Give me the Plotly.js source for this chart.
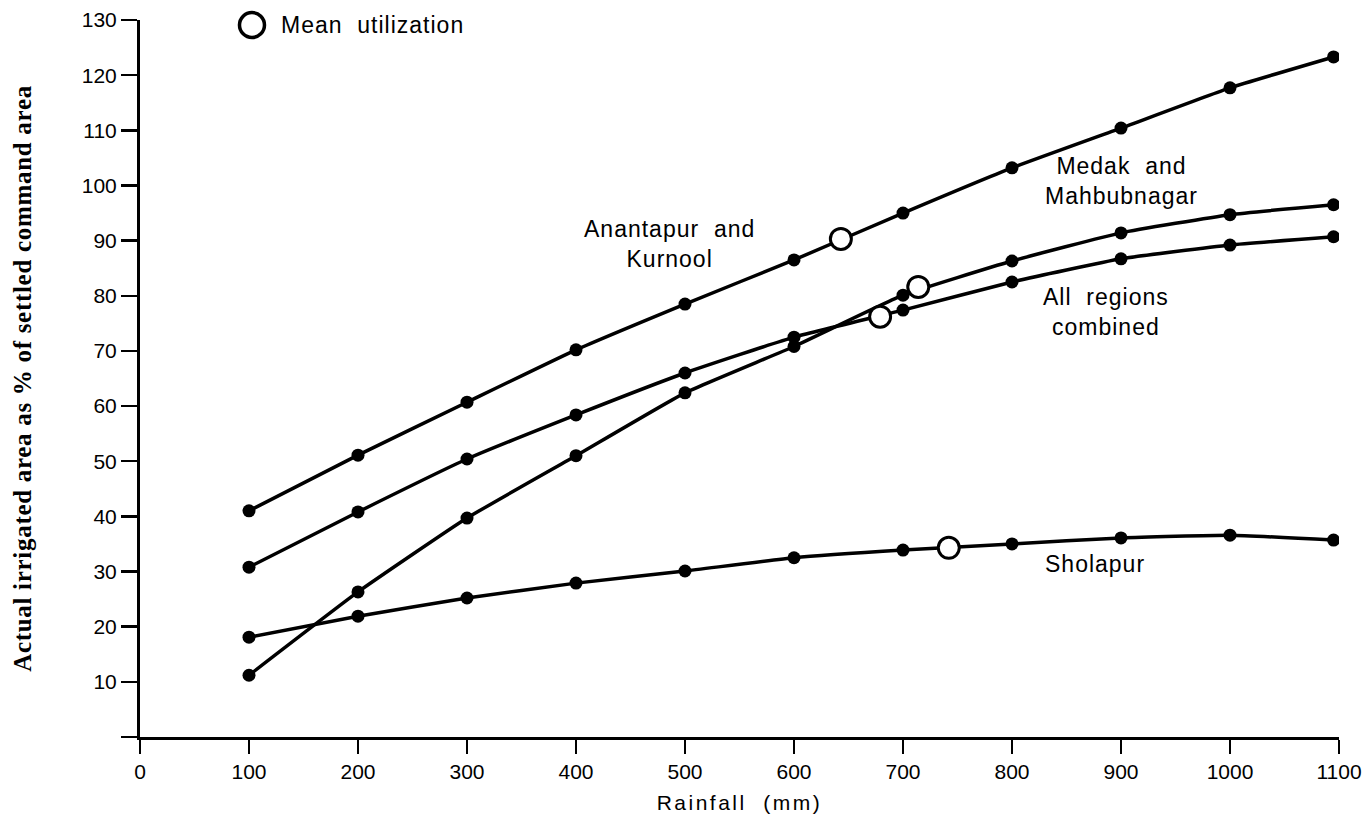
<!DOCTYPE html>
<html>
<head>
<meta charset="utf-8">
<script src="https://cdn.plot.ly/plotly-3.0.1.min.js"></script>
<style>
  html, body { margin: 0; padding: 0; background: #fff; }
  #chart { width: 1367px; height: 821px; }
  .annotation-text { letter-spacing: 1px; }
  .xtitle { letter-spacing: 2.5px; }
  .ytitle { letter-spacing: 0.7px; }
</style>
</head>
<body>
<div id="chart"></div>
<script>
// ---- Data ----
const rainfall = [100, 200, 300, 400, 500, 600, 700, 800, 900, 1000, 1095];
const anantapurKurnool = [41.0, 51.1, 60.7, 70.2, 78.5, 86.5, 95.0, 103.2, 110.4, 117.7, 123.3];
const medakMahbubnagar = [11.2, 26.3, 39.7, 51.0, 62.4, 70.8, 80.1, 86.3, 91.4, 94.7, 96.5];
const allRegions = [30.8, 40.8, 50.4, 58.4, 66.0, 72.5, 77.4, 82.5, 86.7, 89.2, 90.7];
const sholapur = [18.1, 21.9, 25.2, 27.9, 30.1, 32.5, 33.9, 35.0, 36.1, 36.6, 35.7];

// Mean utilization (open circles): Anantapur, Medak, All regions, Sholapur
const meanRainfall = [643, 714, 679, 742];
const meanUtilization = [90.3, 81.6, 76.2, 34.3];

const xTickVals = [0, 100, 200, 300, 400, 500, 600, 700, 800, 900, 1000, 1100];
const xTickText = ["0", "100", "200", "300", "400", "500", "600", "700", "800", "900", "1000", "1100"];
const yTickVals = [0, 10, 20, 30, 40, 50, 60, 70, 80, 90, 100, 110, 120, 130];
const yTickText = ["", "10", "20", "30", "40", "50", "60", "70", "80", "90", "100", "110", "120", "130"];

const seriesNames = ["Anantapur and Kurnool", "Medak and Mahbubnagar", "All regions combined", "Sholapur"];
const seriesValues = [anantapurKurnool, medakMahbubnagar, allRegions, sholapur];

const sans = "Liberation Sans, Arial, Helvetica, sans-serif";

const traces = seriesValues.map((vals, i) => ({
  type: "scatter",
  mode: "lines+markers",
  name: seriesNames[i],
  x: rainfall,
  y: vals,
  line: { color: "#000", width: 3.5, shape: "spline", smoothing: 0.4 },
  marker: { color: "#000", size: 13, symbol: "circle" },
  showlegend: false,
  hoverinfo: "x+y+name"
}));

traces.push({
  type: "scatter",
  mode: "markers",
  name: "Mean utilization",
  x: meanRainfall,
  y: meanUtilization,
  marker: { color: "#fff", size: 21, symbol: "circle", line: { color: "#000", width: 3 } },
  showlegend: false
});

const annFont = { family: sans, size: 23, color: "#000" };
const nb = "\u00a0";

const layout = {
  width: 1367,
  height: 821,
  paper_bgcolor: "#fff",
  plot_bgcolor: "#fff",
  margin: { l: 140, r: 28, t: 20, b: 84 },
  showlegend: false,
  xaxis: {
    range: [0, 1100],
    tickmode: "array",
    tickvals: xTickVals,
    ticktext: xTickText,
    ticks: "outside",
    ticklen: 14,
    tickwidth: 2.5,
    tickcolor: "#000",
    showline: true,
    linewidth: 3,
    linecolor: "#000",
    showgrid: false,
    zeroline: false,
    tickfont: { family: sans, size: 21, color: "#000" },
    title: { text: "Rainfall" + nb + nb + "(mm)", font: { family: sans, size: 21, color: "#000" }, standoff: 14 }
  },
  yaxis: {
    range: [0, 130],
    tickmode: "array",
    tickvals: yTickVals,
    ticktext: yTickText,
    ticks: "outside",
    ticklen: 16,
    tickwidth: 2.5,
    tickcolor: "#000",
    showline: true,
    linewidth: 3,
    linecolor: "#000",
    showgrid: false,
    zeroline: false,
    tickfont: { family: sans, size: 21, color: "#000" },
    title: { text: "Actual irrigated area as % of settled command area", font: { family: "Liberation Serif, Times New Roman, serif", size: 25, color: "#000", weight: "bold" }, standoff: 44 }
  },
  shapes: [
    {
      type: "circle",
      xref: "paper", yref: "paper",
      xsizemode: "pixel", ysizemode: "pixel",
      xanchor: 0.0934, yanchor: 0.993,
      x0: -12.5, x1: 12.5, y0: -12.5, y1: 12.5,
      line: { color: "#000", width: 3.5 },
      fillcolor: "#fff"
    }
  ],
  annotations: [
    { xref: "paper", yref: "paper", x: 0.116, y: 0.993, xanchor: "left", yanchor: "middle",
      text: "Mean" + nb + nb + "utilization", showarrow: false, font: annFont },
    { xref: "x", yref: "y", x: 486, y: 89.4, xanchor: "center", yanchor: "middle",
      text: "Anantapur" + nb + nb + "and<br>Kurnool", showarrow: false, font: annFont },
    { xref: "x", yref: "y", x: 900, y: 100.8, xanchor: "center", yanchor: "middle",
      text: "Medak" + nb + nb + "and<br>Mahbubnagar", showarrow: false, font: annFont },
    { xref: "x", yref: "y", x: 886, y: 77.0, xanchor: "center", yanchor: "middle",
      text: "All" + nb + nb + "regions<br>combined", showarrow: false, font: annFont },
    { xref: "x", yref: "y", x: 876, y: 31.4, xanchor: "center", yanchor: "middle",
      text: "Sholapur", showarrow: false, font: annFont }
  ]
};

Plotly.newPlot("chart", traces, layout, { displayModeBar: false, staticPlot: true });
</script>
</body>
</html>
